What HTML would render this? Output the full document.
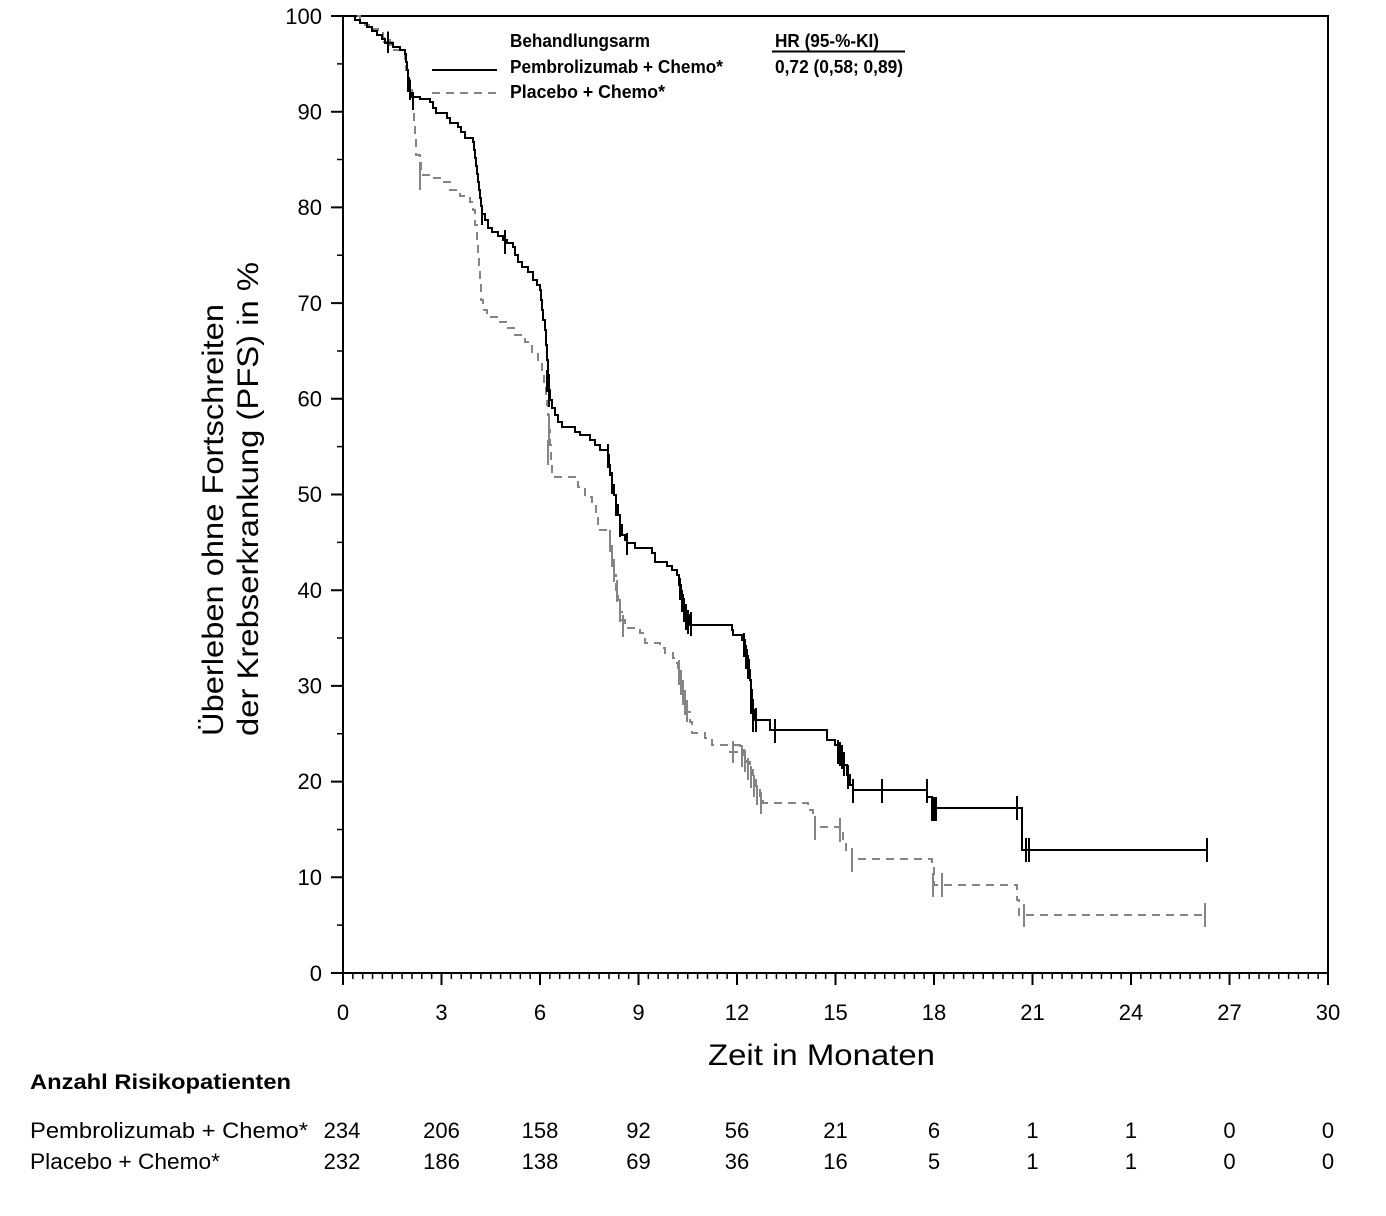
<!DOCTYPE html>
<html><head><meta charset="utf-8"><style>
html,body{margin:0;padding:0;background:#fff;}
svg{display:block;}
text{font-family:"Liberation Sans",Arial,sans-serif;fill:#000;}
</style></head><body>
<svg width="1386" height="1216" viewBox="0 0 1386 1216" xmlns="http://www.w3.org/2000/svg">
<rect width="1386" height="1216" fill="#fff"/>
<!-- frame -->
<g stroke="#000" stroke-width="2" fill="none">
<line x1="343" y1="16" x2="1329" y2="16"/>
<line x1="1328" y1="16" x2="1328" y2="974"/>
<line x1="343" y1="15" x2="343" y2="974"/>
<line x1="342" y1="973" x2="1329" y2="973"/>
</g>
<!-- x minor ticks -->
<path stroke="#000" stroke-width="1.5" fill="none" d="M352.85,973v6M362.7,973v6M372.55,973v6M382.4,973v6M392.25,973v6M402.1,973v6M411.95,973v6M421.8,973v6M431.65,973v6M451.35,973v6M461.2,973v6M471.05,973v6M480.9,973v6M490.75,973v6M500.6,973v6M510.45,973v6M520.3,973v6M530.15,973v6M549.85,973v6M559.7,973v6M569.55,973v6M579.4,973v6M589.25,973v6M599.1,973v6M608.95,973v6M618.8,973v6M628.65,973v6M648.35,973v6M658.2,973v6M668.05,973v6M677.9,973v6M687.75,973v6M697.6,973v6M707.45,973v6M717.3,973v6M727.15,973v6M746.85,973v6M756.7,973v6M766.55,973v6M776.4,973v6M786.25,973v6M796.1,973v6M805.95,973v6M815.8,973v6M825.65,973v6M845.35,973v6M855.2,973v6M865.05,973v6M874.9,973v6M884.75,973v6M894.6,973v6M904.45,973v6M914.3,973v6M924.15,973v6M943.85,973v6M953.7,973v6M963.55,973v6M973.4,973v6M983.25,973v6M993.1,973v6M1002.95,973v6M1012.8,973v6M1022.65,973v6M1042.35,973v6M1052.2,973v6M1062.05,973v6M1071.9,973v6M1081.75,973v6M1091.6,973v6M1101.45,973v6M1111.3,973v6M1121.15,973v6M1140.85,973v6M1150.7,973v6M1160.55,973v6M1170.4,973v6M1180.25,973v6M1190.1,973v6M1199.95,973v6M1209.8,973v6M1219.65,973v6M1239.35,973v6M1249.2,973v6M1259.05,973v6M1268.9,973v6M1278.75,973v6M1288.6,973v6M1298.45,973v6M1308.3,973v6M1318.15,973v6"/>
<!-- x major ticks -->
<path stroke="#000" stroke-width="2" fill="none" d="M343,973v12M441.5,973v12M540,973v12M638.5,973v12M737,973v12M835.5,973v12M934,973v12M1032.5,973v12M1131,973v12M1229.5,973v12M1328,973v12"/>
<!-- y ticks -->
<path stroke="#000" stroke-width="2" fill="none" d="M331,16h12M331,111.7h12M331,207.4h12M331,303.1h12M331,398.8h12M331,494.5h12M331,590.2h12M331,685.9h12M331,781.6h12M331,877.3h12M331,973h12"/>
<path stroke="#000" stroke-width="1.5" fill="none" d="M337,63.85h6M337,159.55h6M337,255.25h6M337,350.95h6M337,446.65h6M337,542.35h6M337,638.05h6M337,733.75h6M337,829.45h6M337,925.15h6"/>
<!-- y tick labels -->
<g font-size="22" text-anchor="end">
<text x="322" y="24">100</text>
<text x="322" y="119.5">90</text>
<text x="322" y="215">80</text>
<text x="322" y="311">70</text>
<text x="322" y="406.5">60</text>
<text x="322" y="502">50</text>
<text x="322" y="598">40</text>
<text x="322" y="693.5">30</text>
<text x="322" y="789">20</text>
<text x="322" y="885">10</text>
<text x="322" y="981">0</text>
</g>
<!-- x tick labels -->
<g font-size="22" text-anchor="middle">
<text x="343" y="1020">0</text>
<text x="441.5" y="1020">3</text>
<text x="540" y="1020">6</text>
<text x="638.5" y="1020">9</text>
<text x="737" y="1020">12</text>
<text x="835.5" y="1020">15</text>
<text x="934" y="1020">18</text>
<text x="1032.5" y="1020">21</text>
<text x="1131" y="1020">24</text>
<text x="1229.5" y="1020">27</text>
<text x="1328" y="1020">30</text>
</g>
<!-- axis titles -->
<text x="708" y="1065" font-size="30" textLength="227" lengthAdjust="spacingAndGlyphs">Zeit in Monaten</text>
<text transform="translate(223,736) rotate(-90)" font-size="30" textLength="432" lengthAdjust="spacingAndGlyphs">Überleben ohne Fortschreiten</text>
<text transform="translate(258,736) rotate(-90)" font-size="30" textLength="474" lengthAdjust="spacingAndGlyphs">der Krebserkrankung (PFS) in %</text>

<!-- legend -->
<line x1="432" y1="70" x2="497" y2="70" stroke="#000" stroke-width="2"/>
<line x1="432" y1="93" x2="497" y2="93" stroke="#858585" stroke-width="2" stroke-dasharray="8 6"/>
<g font-size="18" font-weight="bold">
<text x="510" y="47" textLength="140" lengthAdjust="spacingAndGlyphs">Behandlungsarm</text>
<text x="510" y="73" textLength="213" lengthAdjust="spacingAndGlyphs">Pembrolizumab + Chemo*</text>
<text x="510" y="98" textLength="155" lengthAdjust="spacingAndGlyphs">Placebo + Chemo*</text>
<text x="775" y="47" textLength="104" lengthAdjust="spacingAndGlyphs">HR (95-%-KI)</text>
<text x="775" y="73" textLength="128" lengthAdjust="spacingAndGlyphs">0,72 (0,58; 0,89)</text>
</g>
<line x1="772" y1="51.5" x2="905" y2="51.5" stroke="#000" stroke-width="2"/>

<!-- placebo curve -->
<path fill="none" stroke="#858585" stroke-width="2" stroke-dasharray="8 6" d="M343,16 H360 V20 H365 V25 H372 V29 H378 V33 H383 V38 H390 V45 H393 V50 H403 V53 H405 V60 H406 V70 H408 V80 H410 V90 H412 V97 H413 V110 H414 V125 H415 V140 H416 V155 H420 V160 H421 V175 H432 V178 H440 V182 H450 V190 H460 V196 H470 V202 H473 V210 H475 V225 H477 V240 H478 V255 H479 V270 H480 V285 H481 V300 H483 V310 H487 V317 H500 V322 H508 V328 H515 V335 H525 V342 H532 V352 H538 V362 H542 V372 H544 V385 H546 V395 H547 V405 H548 V415 H549 V430 H550 V445 H551 V460 H552 V477 H578 V487 H585 V497 H592 V505 H596 V518 H598 V530 H608 V532 H610 V545 H612 V560 H614 V575 H616 V590 H618 V600 H620 V612 H622 V620 H625 V628 H640 V633 H645 V643 H660 V648 H665 V653 H673 V658 H676 V663 H678 V672 H680 V682 H682 V692 H684 V702 H686 V712 H690 V722 H692 V733 H705 V738 H712 V745 H740 V748 H744 V755 H747 V762 H750 V770 H753 V780 H756 V790 H760 V800 H763 V803 H808 V810 H813 V817 H815 V827 H840 V832 H843 V840 H846 V850 H852 V859 H932 V867 H934 V885 H1017 V900 H1019 V915 H1205"/>
<!-- placebo censors -->
<g stroke="#858585" stroke-width="2">
<line x1="388" y1="31" x2="388" y2="53"/><line x1="383" y1="42" x2="393" y2="42"/>
<line x1="420" y1="162" x2="420" y2="190"/>
<line x1="548" y1="440" x2="548" y2="465"/>
<line x1="549" y1="420" x2="549" y2="445"/>
<line x1="610" y1="530" x2="610" y2="552"/>
<line x1="612" y1="545" x2="612" y2="567"/>
<line x1="614" y1="560" x2="614" y2="582"/>
<line x1="617" y1="580" x2="617" y2="602"/>
<line x1="620" y1="600" x2="620" y2="622"/>
<line x1="623" y1="615" x2="623" y2="637"/>
<line x1="679" y1="660" x2="679" y2="685"/>
<line x1="681" y1="670" x2="681" y2="695"/>
<line x1="683" y1="680" x2="683" y2="705"/>
<line x1="685" y1="690" x2="685" y2="715"/>
<line x1="687" y1="700" x2="687" y2="722"/>
<line x1="733" y1="741" x2="733" y2="763"/><line x1="729" y1="752" x2="738" y2="752"/>
<line x1="742" y1="745" x2="742" y2="767"/>
<line x1="745" y1="750" x2="745" y2="772"/>
<line x1="748" y1="758" x2="748" y2="780"/>
<line x1="751" y1="766" x2="751" y2="788"/>
<line x1="754" y1="775" x2="754" y2="797"/>
<line x1="757" y1="785" x2="757" y2="805"/>
<line x1="761" y1="792" x2="761" y2="814"/>
<line x1="815" y1="816" x2="815" y2="840"/>
<line x1="840" y1="818" x2="840" y2="842"/>
<line x1="852" y1="848" x2="852" y2="872"/>
<line x1="933" y1="873" x2="933" y2="897"/>
<line x1="942" y1="873" x2="942" y2="897"/>
<line x1="1024" y1="904" x2="1024" y2="927"/>
<line x1="1205" y1="903" x2="1205" y2="927"/>
</g>

<!-- pembro curve -->
<path fill="none" stroke="#000" stroke-width="2" d="M343,16 H355 V20 H360 V23 H367 V27 H372 V31 H377 V35 H382 V39 H385 V43 H393 V47 H400 V50 H405 V54 H406 V62 H407 V70 H408 V78 H409 V86 H410 V93 H412 V97 H420 V99 H430 V102 H433 V108 H436 V113 H447 V118 H450 V123 H458 V127 H461 V132 H465 V138 H473 V142 H474 V150 H475 V158 H476 V166 H477 V174 H478 V182 H479 V190 H480 V198 H481 V206 H482 V214 H485 V220 H488 V228 H492 V232 H498 V236 H503 V240 H507 V243 H513 V247 H515 V255 H518 V262 H522 V267 H528 V272 H533 V280 H537 V285 H540 V290 H541 V300 H542 V310 H543 V320 H545 V330 H546 V345 H547 V360 H548 V375 H549 V390 H550 V400 H552 V408 H555 V415 H558 V422 H562 V427 H575 V432 H580 V435 H590 V440 H595 V445 H600 V450 H608 V455 H609 V465 H610 V475 H612 V485 H614 V495 H616 V505 H618 V515 H620 V525 H622 V535 H625 V540 H627 V543 H635 V548 H652 V553 H655 V562 H667 V566 H672 V570 H677 V575 H679 V585 H681 V595 H683 V605 H686 V615 H690 V625 H732 V630 H733 V635 H742 V640 H745 V650 H747 V660 H749 V670 H750 V680 H751 V690 H752 V700 H753 V710 H754 V720 H770 V730 H827 V740 H835 V745 H838 V752 H841 V758 H844 V765 H847 V775 H850 V785 H853 V790 H927 V797 H932 V808 H1022 V850 H1207"/>
<!-- pembro censors -->
<g stroke="#000" stroke-width="2">
<line x1="388" y1="32" x2="388" y2="53"/>
<line x1="408" y1="70" x2="408" y2="92"/>
<line x1="410" y1="80" x2="410" y2="100"/>
<line x1="413" y1="92" x2="413" y2="110"/>
<line x1="482" y1="205" x2="482" y2="225"/>
<line x1="505" y1="230" x2="505" y2="254"/>
<line x1="547" y1="370" x2="547" y2="392"/>
<line x1="549" y1="385" x2="549" y2="407"/>
<line x1="608" y1="444" x2="608" y2="468"/>
<line x1="612" y1="472" x2="612" y2="494"/>
<line x1="616" y1="494" x2="616" y2="516"/>
<line x1="620" y1="515" x2="620" y2="537"/>
<line x1="627" y1="533" x2="627" y2="555"/>
<line x1="680" y1="578" x2="680" y2="600"/>
<line x1="682" y1="590" x2="682" y2="612"/>
<line x1="684" y1="598" x2="684" y2="622"/>
<line x1="686" y1="606" x2="686" y2="630"/>
<line x1="688" y1="610" x2="688" y2="634"/>
<line x1="691" y1="612" x2="691" y2="636"/>
<line x1="744" y1="633" x2="744" y2="657"/>
<line x1="746" y1="645" x2="746" y2="669"/>
<line x1="748" y1="655" x2="748" y2="679"/>
<line x1="751" y1="690" x2="751" y2="714"/>
<line x1="753" y1="700" x2="753" y2="732"/>
<line x1="756" y1="708" x2="756" y2="732"/>
<line x1="775" y1="719" x2="775" y2="743"/>
<line x1="838" y1="740" x2="838" y2="764"/>
<line x1="840" y1="742" x2="840" y2="766"/>
<line x1="842" y1="745" x2="842" y2="769"/>
<line x1="844" y1="752" x2="844" y2="776"/>
<line x1="848" y1="765" x2="848" y2="789"/>
<line x1="853" y1="779" x2="853" y2="803"/>
<line x1="882" y1="779" x2="882" y2="803"/>
<line x1="927" y1="779" x2="927" y2="803"/>
<line x1="932" y1="797" x2="932" y2="821"/>
<line x1="934" y1="797" x2="934" y2="821"/>
<line x1="936" y1="797" x2="936" y2="821"/>
<line x1="1017" y1="796" x2="1017" y2="820"/>
<line x1="1026" y1="838" x2="1026" y2="862"/>
<line x1="1029" y1="838" x2="1029" y2="862"/>
<line x1="1207" y1="838" x2="1207" y2="862"/>
</g>

<!-- risk table -->
<text x="30" y="1089" font-size="21" font-weight="bold" textLength="261" lengthAdjust="spacingAndGlyphs">Anzahl Risikopatienten</text>
<text x="30" y="1138" font-size="22" textLength="278" lengthAdjust="spacingAndGlyphs">Pembrolizumab + Chemo*</text>
<text x="30" y="1169" font-size="22" textLength="190" lengthAdjust="spacingAndGlyphs">Placebo + Chemo*</text>
<g font-size="22" text-anchor="middle">
<text x="342" y="1138">234</text>
<text x="441.5" y="1138">206</text>
<text x="540" y="1138">158</text>
<text x="638.5" y="1138">92</text>
<text x="737" y="1138">56</text>
<text x="835.5" y="1138">21</text>
<text x="934" y="1138">6</text>
<text x="1032.5" y="1138">1</text>
<text x="1131" y="1138">1</text>
<text x="1229.5" y="1138">0</text>
<text x="1328" y="1138">0</text>
<text x="342" y="1169">232</text>
<text x="441.5" y="1169">186</text>
<text x="540" y="1169">138</text>
<text x="638.5" y="1169">69</text>
<text x="737" y="1169">36</text>
<text x="835.5" y="1169">16</text>
<text x="934" y="1169">5</text>
<text x="1032.5" y="1169">1</text>
<text x="1131" y="1169">1</text>
<text x="1229.5" y="1169">0</text>
<text x="1328" y="1169">0</text>
</g>
</svg>
</body></html>
